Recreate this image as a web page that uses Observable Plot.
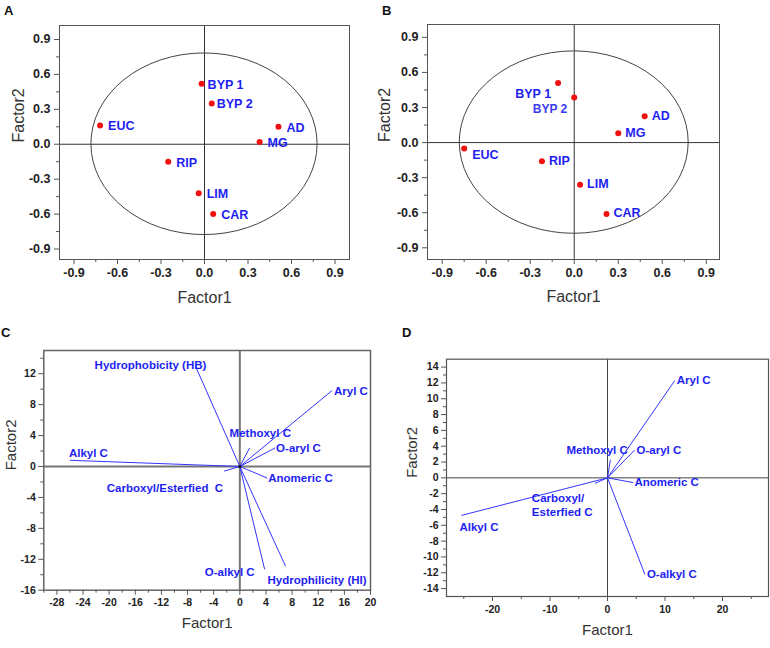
<!DOCTYPE html>
<html><head><meta charset="utf-8">
<script src="https://cdn.jsdelivr.net/npm/d3@7"></script>
<script src="https://cdn.jsdelivr.net/npm/@observablehq/plot@0.6"></script>
<style>
body{margin:0;background:#fff;}
#wrap{position:relative;width:770px;height:648px;background:#fff;font-family:"Liberation Sans",Arial,sans-serif;overflow:hidden;}
.panel{position:absolute;}
.plab{position:absolute;font-weight:bold;font-size:13px;color:#111;line-height:1;}
</style></head><body><div id="wrap"></div>
<script>
// ---------- data ----------
const samples = ["BYP 1", "BYP 2", "EUC", "AD", "MG", "RIP", "LIM", "CAR"];
const aFactor1 = [-0.02, 0.05, -0.72, 0.51, 0.38, -0.25, -0.04, 0.06];
const aFactor2 = [0.52, 0.35, 0.16, 0.15, 0.02, -0.15, -0.42, -0.60];
const bFactor1 = [-0.11, 0.0, -0.75, 0.48, 0.30, -0.22, 0.04, 0.22];
const bFactor2 = [0.51, 0.385, -0.05, 0.225, 0.08, -0.16, -0.36, -0.61];
const circleRadius = 0.78;

const cVars = ["Hydrophobicity (HB)", "Aryl C", "Methoxyl C", "O-aryl C", "Alkyl C",
  "Carboxyl/Esterfied  C", "Anomeric C", "O-alkyl C", "Hydrophilicity (HI)"];
const cFactor1 = [-6.8, 14.1, 1.5, 5.4, -26.0, -2.4, 4.2, 3.8, 7.0];
const cFactor2 = [13.0, 9.8, 2.4, 2.4, 0.8, -0.6, -1.5, -13.3, -12.9];

const dVars = ["Aryl C", "O-aryl C", "Methoxyl C", "Anomeric C", "Alkyl C",
  "Carboxyl/\nEsterfied C", "O-alkyl C"];
const dFactor1 = [11.7, 4.7, 0.5, 4.5, -25.4, -2.2, 6.5];
const dFactor2 = [12.3, 3.5, 2.3, -0.6, -4.75, -0.7, -12.2];

const abTicks = [-0.9, -0.6, -0.3, 0.0, 0.3, 0.6, 0.9];
const abMinor = [-0.75, -0.45, -0.15, 0.15, 0.45, 0.75];
const cXTicks = [-28, -24, -20, -16, -12, -8, -4, 0, 4, 8, 12, 16, 20];
const cXMinor = [-30, -26, -22, -18, -14, -10, -6, -2, 2, 6, 10, 14, 18];
const cYTicks = [-16, -12, -8, -4, 0, 4, 8, 12];
const cYMinor = [-14, -10, -6, -2, 2, 6, 10, 14];
const dXTicks = [-20, -10, 0, 10, 20];
const dXMinor = [-25, -15, -5, 5, 15, 25];
const dYTicks = [-14, -12, -10, -8, -6, -4, -2, 0, 2, 4, 6, 8, 10, 12, 14];
const dYMinor = [-13, -11, -9, -7, -5, -3, -1, 1, 3, 5, 7, 9, 11, 13];

// ---------- style ----------
const FONT = "'Liberation Sans', Arial, sans-serif";
const BLUE_TEXT = "#1e1ef2";
const BLUE_LINE = "#3434ff";
const RED = "#f01010";

const wrap = document.getElementById("wrap");

function ellipseMark(r, stroke) {
  return (index, scales) => {
    const {x, y} = scales;
    const e = document.createElementNS("http://www.w3.org/2000/svg", "ellipse");
    e.setAttribute("cx", x(0));
    e.setAttribute("cy", y(0));
    e.setAttribute("rx", Math.abs(x(r) - x(0)));
    e.setAttribute("ry", Math.abs(y(r) - y(0)));
    e.setAttribute("fill", "none");
    e.setAttribute("stroke", stroke);
    e.setAttribute("stroke-width", 1);
    return e;
  };
}

function axes(cfg) {
  return [
    Plot.axisX(cfg.xTicks, {anchor: "bottom", tickSize: 5, tickPadding: cfg.xPad, tickFormat: cfg.fmt,
      fontSize: cfg.tickFont, fontWeight: "bold", color: "#222", stroke: cfg.frame, label: null}),
    Plot.axisX(cfg.xMinor, {anchor: "bottom", tickSize: 3, tickFormat: () => "", stroke: cfg.frame, label: null}),
    Plot.axisY(cfg.yTicks, {anchor: "left", tickSize: 5, tickPadding: cfg.yPad, tickFormat: cfg.fmt,
      fontSize: cfg.tickFont, fontWeight: "bold", color: "#222", stroke: cfg.frame, label: null}),
    Plot.axisY(cfg.yMinor, {anchor: "left", tickSize: 3, tickFormat: () => "", stroke: cfg.frame, label: null}),
    Plot.text(["Factor1"], {frameAnchor: "bottom", dy: cfg.t1dy, text: d => d, fontSize: cfg.titleFont,
      fill: "#333", lineAnchor: "middle", fontFamily: FONT}),
    Plot.text(["Factor2"], {frameAnchor: "left", dx: cfg.t2dx, text: d => d, rotate: -90, fontSize: cfg.titleFont,
      fill: "#333", lineAnchor: "middle", fontFamily: FONT})
  ];
}

function labelMarks(data, place, def, fontSize) {
  return data.map(d => {
    const p = Object.assign({}, def, place[d.name] || {});
    return Plot.text([d], {x: "f1", y: "f2", text: "name", dx: p.dx, dy: p.dy, textAnchor: p.anchor,
      fill: p.fill || BLUE_TEXT, fontWeight: "bold", fontSize: p.size || fontSize, fontFamily: FONT,
      lineAnchor: "middle", lineHeight: 1.2});
  });
}

function addPanel(left, top, width, height, margins, domains, marks) {
  const svg = Plot.plot({
    width, height,
    marginLeft: margins[3], marginRight: margins[1], marginTop: margins[0], marginBottom: margins[2],
    x: {domain: domains[0], label: null},
    y: {domain: domains[1], label: null},
    style: {fontFamily: FONT, background: "transparent", overflow: "visible"},
    marks
  });
  const div = document.createElement("div");
  div.className = "panel";
  div.style.left = left + "px";
  div.style.top = top + "px";
  div.appendChild(svg);
  wrap.appendChild(div);
}

const fmt1 = d => d.toFixed(1);
const fmtInt = d => String(d);

// ---------- Panel A ----------
const aData = samples.map((name, i) => ({name, f1: aFactor1[i], f2: aFactor2[i]}));
addPanel(0, 0, 385, 310, [25, 36, 51, 59], [[-1, 1], [-0.99, 1.02]], [
  Plot.ruleX([0], {stroke: "#333"}),
  Plot.ruleY([0], {stroke: "#333"}),
  ellipseMark(circleRadius, "#444"),
  Plot.frame({stroke: "#555"}),
  ...axes({xTicks: abTicks, xMinor: abMinor, yTicks: abTicks, yMinor: abMinor, fmt: fmt1, tickFont: 12.5,
    xPad: 4, yPad: 4, frame: "#555", t1dy: 38, t2dx: -41, titleFont: 16}),
  Plot.dot(aData, {x: "f1", y: "f2", r: 3, fill: RED, stroke: "none"}),
  ...labelMarks(aData, {"BYP 1": {dx: 6}, "BYP 2": {dx: 5}}, {dx: 8, dy: 0, anchor: "start"}, 12.5)
]);

// ---------- Panel B ----------
const bData = samples.map((name, i) => ({name, f1: bFactor1[i], f2: bFactor2[i]}));
addPanel(365, 0, 405, 310, [24, 51, 51, 62], [[-1, 0.99], [-1, 1.01]], [
  Plot.ruleX([0], {stroke: "#333"}),
  Plot.ruleY([0], {stroke: "#333"}),
  ellipseMark(circleRadius, "#444"),
  Plot.frame({stroke: "#555"}),
  ...axes({xTicks: abTicks, xMinor: abMinor, yTicks: abTicks, yMinor: abMinor, fmt: fmt1, tickFont: 12.5,
    xPad: 4, yPad: 4, frame: "#555", t1dy: 37, t2dx: -43, titleFont: 16}),
  Plot.dot(bData, {x: "f1", y: "f2", r: 3, fill: RED, stroke: "none"}),
  ...labelMarks(bData, {
    "BYP 1": {dx: -7, dy: 10, anchor: "end"},
    "BYP 2": {dx: -7, dy: 11, anchor: "end", fill: "#3c3cf0", size: 12},
    "EUC": {dx: 8, dy: 6}
  }, {dx: 7, dy: -1.5, anchor: "start"}, 12.5)
]);

// ---------- Panel C ----------
const cData = cVars.map((name, i) => ({name, f1: cFactor1[i], f2: cFactor2[i]}));
addPanel(0, 300, 385, 348, [50, 15, 58.3, 43.3], [[-30, 20], [-16, 15]], [
  Plot.ruleX([0], {stroke: "#777", strokeWidth: 2}),
  Plot.ruleY([0], {stroke: "#777", strokeWidth: 2}),
  Plot.frame({stroke: "#666", strokeWidth: 1.5}),
  ...axes({xTicks: cXTicks, xMinor: cXMinor, yTicks: cYTicks, yMinor: cYMinor, fmt: fmtInt, tickFont: 10.5,
    xPad: 3, yPad: 3, frame: "#555", t1dy: 33, t2dx: -33, titleFont: 15}),
  Plot.link(cData, {x1: 0, y1: 0, x2: "f1", y2: "f2", stroke: BLUE_LINE, strokeWidth: 1}),
  Plot.dot([0], {x: 0, y: 0, r: 1.5, fill: "#111"}),
  ...labelMarks(cData, {
    "Hydrophobicity (HB)": {dx: 11, dy: -1, anchor: "end"},
    "Aryl C": {dx: 2, dy: 0},
    "Methoxyl C": {dx: -20, dy: -15},
    "O-aryl C": {dx: 1, dy: 0},
    "Alkyl C": {dx: -1, dy: -8},
    "Carboxyl/Esterfied  C": {dx: -1, dy: 16, anchor: "end"},
    "Anomeric C": {dx: 1, dy: -1},
    "O-alkyl C": {dx: -10, dy: 2, anchor: "end"},
    "Hydrophilicity (HI)": {dx: -18, dy: 13}
  }, {dx: 2, dy: 0, anchor: "start"}, 11.5)
]);

// ---------- Panel D ----------
const dData = dVars.map((name, i) => ({name, f1: dFactor1[i], f2: dFactor2[i]}));
addPanel(385, 300, 385, 348, [58.7, 2, 52, 61], [[-28, 28], [-15, 15]], [
  Plot.ruleX([0], {stroke: "#444"}),
  Plot.ruleY([0], {stroke: "#444"}),
  Plot.frame({stroke: "#555", strokeWidth: 1.2}),
  ...axes({xTicks: dXTicks, xMinor: dXMinor, yTicks: dYTicks, yMinor: dYMinor, fmt: fmtInt, tickFont: 10.5,
    xPad: 4, yPad: 3, frame: "#555", t1dy: 34, t2dx: -34, titleFont: 15}),
  Plot.link(dData, {x1: 0, y1: 0, x2: "f1", y2: "f2", stroke: BLUE_LINE, strokeWidth: 1}),
  ...labelMarks(dData, {
    "Aryl C": {dx: 2, dy: -1},
    "O-aryl C": {dx: 2, dy: -1},
    "Methoxyl C": {dx: -44, dy: -10},
    "Anomeric C": {dx: 1, dy: -1},
    "Alkyl C": {dx: -2, dy: 11},
    "Carboxyl/\nEsterfied C": {dx: -63, dy: 21},
    "O-alkyl C": {dx: 2, dy: -1}
  }, {dx: 2, dy: 0, anchor: "start"}, 11.5)
]);

// ---------- panel letters ----------
[["A", 4, 4], ["B", 382, 4], ["C", 1, 326], ["D", 402, 326]].forEach(([t, x, y]) => {
  const s = document.createElement("div");
  s.className = "plab";
  s.textContent = t;
  s.style.left = x + "px";
  s.style.top = y + "px";
  wrap.appendChild(s);
});
</script></body></html>
